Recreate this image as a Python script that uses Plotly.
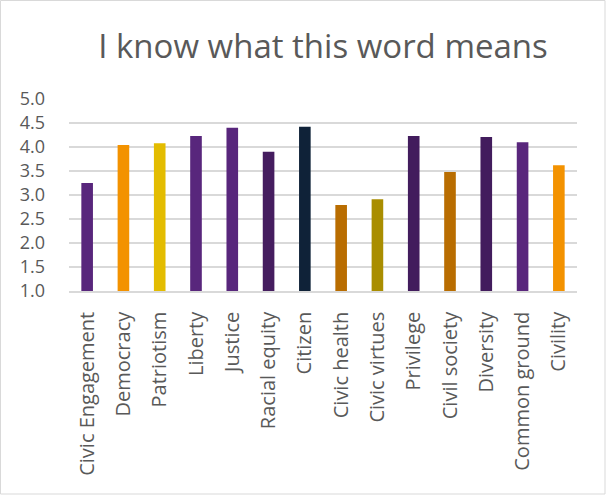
import plotly.graph_objects as go

categories = ["Civic Engagement", "Democracy", "Patriotism", "Liberty", "Justice",
              "Racial equity", "Citizen", "Civic health", "Civic virtues", "Privilege",
              "Civil society", "Diversity", "Common ground", "Civility"]
values = [3.25, 4.04, 4.08, 4.23, 4.40, 3.90, 4.42, 2.79, 2.91, 4.23, 3.48, 4.21, 4.10, 3.62]
bar_colors = ["#58267C", "#F39200", "#E3BC00", "#58267C", "#58267C", "#451D5F", "#0F2238",
              "#B96D00", "#A98D00", "#421C5D", "#B96D00", "#421C5D", "#59267C", "#F39200"]
y_ticks = [1.0, 1.5, 2.0, 2.5, 3.0, 3.5, 4.0, 4.5, 5.0]
title_text = "I know what this word means"

W, H = 608, 496
L, R, T, B = 69, 31, 99, 205
pw, ph = W - L - R, H - T - B

fig = go.Figure(go.Bar(
    x=categories, y=values, marker_color=bar_colors, marker_line_width=0,
    width=0.32,
))

fig.update_layout(
    width=W, height=H, autosize=False,
    margin=dict(l=L, r=R, t=T, b=B),
    paper_bgcolor="white", plot_bgcolor="white",
    font=dict(family="Open Sans", color="#595959"),
    title=dict(text=title_text, x=0.5, xref="paper", xanchor="center",
               y=1 - 46 / H, yref="container", yanchor="middle",
               font=dict(size=33, color="#595959", family="Open Sans")),
    showlegend=False,
)
fig.update_yaxes(range=[1.0, 5.0], tickvals=y_ticks, tickformat=".1f",
                 showgrid=True, gridcolor="#D9D9D9", gridwidth=1.5,
                 zeroline=False, showline=False, ticks="",
                 ticklabelstandoff=23,
                 tickfont=dict(size=18, color="#595959"))
fig.update_xaxes(tickangle=-90, showgrid=False, showline=True, linecolor="#D9D9D9",
                 linewidth=1.5, ticks="", ticklabelstandoff=11,
                 tickfont=dict(size=20, color="#595959"))

# chart frame
fig.add_shape(type="rect", xref="paper", yref="paper",
              x0=(0.5 - L) / pw, x1=(605 - L) / pw,
              y0=(H - 494 - B) / ph, y1=(H - 0.5 - B) / ph,
              line=dict(color="#D9D9D9", width=1), fillcolor="rgba(0,0,0,0)",
              layer="below")

fig.write_html("out.html", config={"displayModeBar": False},
               post_script="document.body.style.margin='0';document.body.style.overflow='hidden';")
